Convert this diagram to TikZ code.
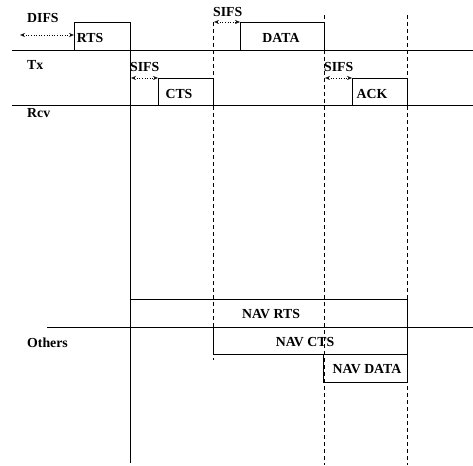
\documentclass[tikz,border=0pt]{standalone}
\usepackage{fontspec}
\setmainfont{Liberation Serif}
\usetikzlibrary{arrows.meta}

\begin{document}
\begin{tikzpicture}[
    x=1pt, y=-1pt,
    every node/.style={font=\fontsize{13.8}{15}\selectfont\bfseries, inner sep=0pt},
    lbl/.style={anchor=west},
    frame/.style={draw, line width=0.8pt},
    axis/.style={line width=0.8pt},
    guide/.style={line width=0.8pt, dash pattern=on 4pt off 3pt},
    gap/.style={{Stealth[open,length=5pt,width=4pt]}-{Stealth[open,length=5pt,width=4pt]}, dotted, line width=0.6pt}
]
\useasboundingbox (0,0) rectangle (473,465);

% time lines
\draw[axis] (12,50) -- (473,50);
\draw[axis] (12,105) -- (473,105);
\draw[axis] (47,327) -- (473,327);
\draw[axis] (130,50) -- (130,463);
\draw[guide] (213,22) -- (213,360);
\draw[guide] (324,15) -- (324,465);
\draw[guide] (407,15) -- (407,465);

% station names
\node[lbl] (difs) at (27,18) {DIFS};
\node[lbl] (tx) at (27,65) {Tx};
\node[lbl] (rcv) at (27,113) {Rcv};
\node[lbl] (others) at (27,343) {Others};

% frames
\draw[frame] (74,22) rectangle (130,50);
\node (rts) at (90,38) {RTS};
\draw[frame] (158,78) rectangle (213,105);
\node (cts) at (179,94) {CTS};
\draw[frame] (240,22) rectangle (324,50);
\node (data) at (281,38) {DATA};
\draw[frame] (352,78) rectangle (407,105);
\node (ack) at (372,94) {ACK};

% NAV
\draw[frame] (130,299) rectangle (407,327);
\node (navrts) at (271,314) {NAV RTS};
\draw[frame] (213,327) rectangle (407,354);
\node (navcts) at (305,342) {NAV CTS};
\draw[frame] (323,354) rectangle (407,382);
\node (navdata) at (367,369) {NAV DATA};

% inter frame spaces
\node[lbl] (sifs1) at (130,67) {SIFS};
\node[lbl] (sifs2) at (213,12) {SIFS};
\node[lbl] (sifs3) at (324,67) {SIFS};
\coordinate (d0) at (20,35);
\coordinate (d1) at (74,35);
\coordinate (s1a) at (131,78);
\coordinate (s1b) at (158,78);
\coordinate (s2a) at (214,22);
\coordinate (s2b) at (240,22);
\coordinate (s3a) at (325,78);
\coordinate (s3b) at (352,78);
\draw[gap] (d0) -- (d1);
\draw[gap] (s1a) -- (s1b);
\draw[gap] (s2a) -- (s2b);
\draw[gap] (s3a) -- (s3b);

\end{tikzpicture}
\end{document}
